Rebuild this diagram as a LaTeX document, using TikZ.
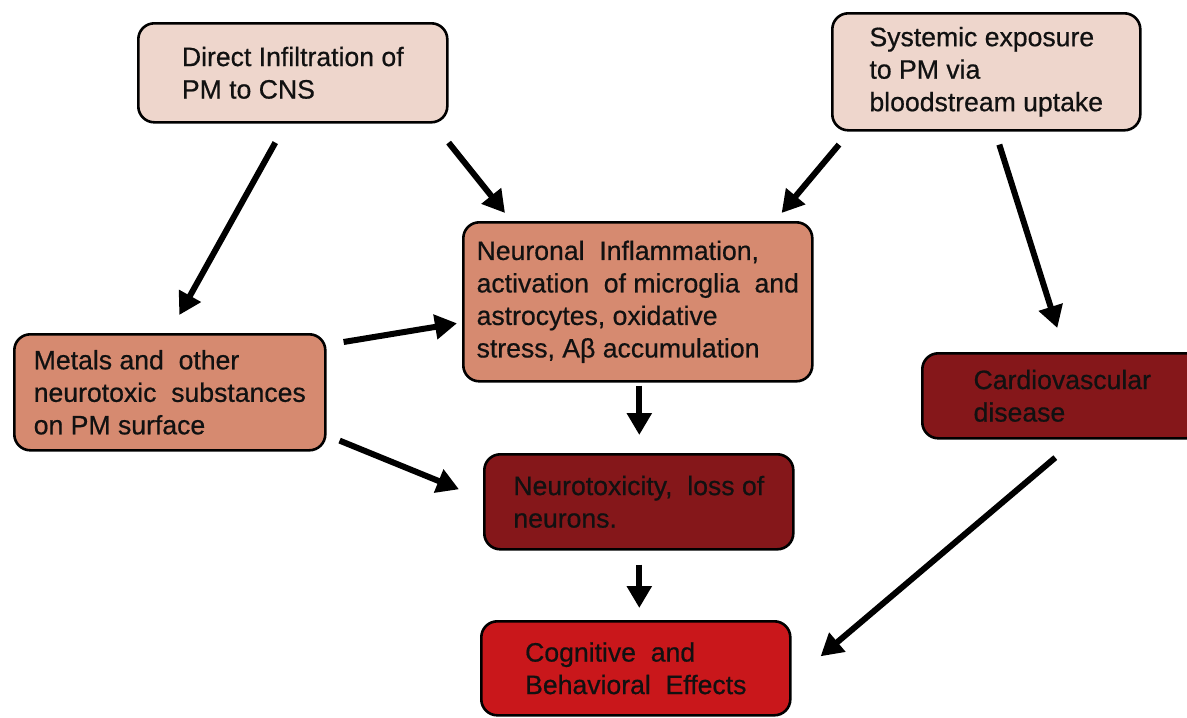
\documentclass[tikz,border=0pt]{standalone}
\usepackage{fontspec}
\setmainfont[FakeBold=0.6]{Liberation Sans}
\usetikzlibrary{arrows.meta,calc}
\definecolor{pinkl}{HTML}{EED6CC}
\definecolor{salmon}{HTML}{D68A70}
\definecolor{darkred}{HTML}{85171A}
\definecolor{brightred}{HTML}{C9171B}
\definecolor{ink}{HTML}{111111}
\begin{document}
\begin{tikzpicture}[x=1pt,y=-1pt,
  box/.style={draw=black, line width=2.6pt, rounded corners=16pt, anchor=north west,
    inner sep=0pt, align=left, text=ink, font=\fontsize{26.6}{32.5}\selectfont},
  arr/.style={line width=6pt, black, -{Triangle[length=22pt,width=24pt]}}]
\clip (0,0) rectangle (1187,718);
\fill[white] (0,0) rectangle (1187,718);
% boxes
\node[box, fill=pinkl, minimum width=309pt, minimum height=99pt] (inf) at (137,22)
  {Direct Infiltration of\\PM to CNS};
\node[box, fill=pinkl, minimum width=308pt, minimum height=117pt] (sys) at (831,12)
  {Systemic exposure\\to PM via\\bloodstream uptake};
\node[box, fill=salmon, minimum width=349pt, minimum height=159pt] (neu) at (462,221)
  {Neuronal\ \ Inflammation,\\activation\ \ of microglia\ \ and\\astrocytes, oxidative\\stress, Aβ accumulation};
\node[box, fill=salmon, minimum width=311pt, minimum height=116pt] (met) at (13,333)
  {Metals and\ \ other\\neurotoxic\ \ substances\\on PM surface};
\node[box, fill=darkred, minimum width=280pt, minimum height=85pt] (car) at (921,352)
  {Cardiovascular\\disease};
\node[box, fill=darkred, minimum width=309pt, minimum height=95pt] (ntx) at (483,453)
  {Neurotoxicity,\ \ loss of\\neurons.\hspace*{5.2em}};
\node[box, fill=brightred, minimum width=309pt, minimum height=94pt] (cog) at (480,620)
  {Cognitive\ \ and\\Behavioral\ \ Effects};
% connectors
\draw[arr] ($(inf.south)+(-17.5,19)$) -- ($(met.north)+(9.5,-18)$);
\draw[arr] ($(inf.south east)+(0,19)$) -- ($(neu.north west)+(43,-8)$);
\draw[arr] ($(sys.south west)+(8,13)$) -- ($(neu.north east)+(-32,-8)$);
\draw[arr] ($(sys.south)+(13,13)$) -- ($(car.north)+(-5,-24)$);
\draw[arr] ($(met.north east)+(17,9)$) -- ($(neu.west)+(-5,21.5)$);
\draw[arr] ($(met.south east)+(13,-11)$) -- ($(ntx.west)+(-24,-12.5)$);
\draw[arr] ($(neu.south)+(1.5,3)$) -- ($(ntx.north)+(0.5,-18)$);
\draw[arr] ($(ntx.south)+(0.5,14)$) -- ($(cog.north)+(3.5,-12)$);
\draw[arr] ($(car.south)+(-7,18)$) -- ($(cog.east)+(29,-12)$);
\end{tikzpicture}
\end{document}
